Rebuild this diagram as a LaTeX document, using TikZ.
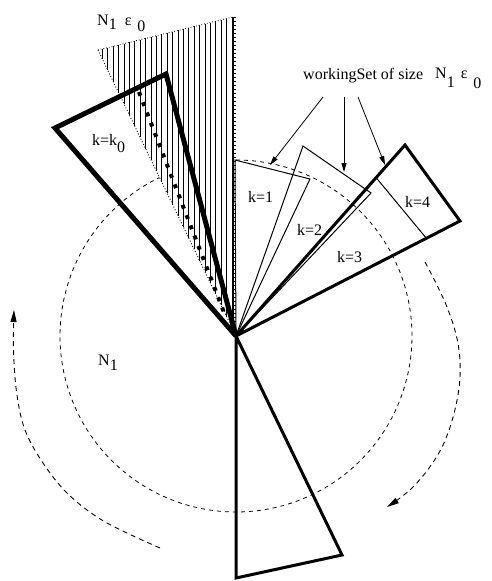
\documentclass[tikz,border=0pt]{standalone}
\usepackage{fontspec}
\setmainfont{Liberation Serif}
\usetikzlibrary{arrows.meta}
\begin{document}
\begin{tikzpicture}[x=1pt,y=-1pt,
  thinline/.style={line width=1pt, line join=miter, miter limit=3},
  thickline/.style={line width=3pt, line join=miter, miter limit=3},
  heavyline/.style={line width=5pt, line join=miter, miter limit=3},
  circdash/.style={line width=0.8pt, dash pattern=on 4pt off 4pt},
  arcdash/.style={line width=0.9pt, dash pattern=on 5pt off 4pt, -{Triangle[length=12pt,width=6pt]}},
  hatchline/.style={line width=1pt},
  ptr/.style={line width=0.8pt, -{Triangle[length=9pt,width=5pt]}},
  lbl/.style={anchor=base west, inner sep=0pt, font=\fontsize{16}{18}\selectfont}]
\useasboundingbox (0,0) rectangle (491,581);
\coordinate (O) at (236,336);
% hatched region
\foreach \i in {0,...,24}{
  \pgfmathsetmacro\xx{232-5.4*\i}
  \draw[hatchline] (\xx,{50-0.2444*(\xx-98)}) -- (\xx,{50+2.0725*(\xx-98)});
}
\coordinate (H1) at (98,50);
\coordinate (H2) at (233,17);
\coordinate (H3) at (233,330);
\draw[dotted, line width=0.8pt] (H1) -- (H2);
\draw[dotted, line width=0.9pt] (H1) -- (O);
\draw[line width=0.8pt] (H2) -- (H3);
\draw[line width=1.2pt, dash pattern=on 0.8pt off 3.2pt] (235,17) -- (235,330);
% dashed circle
\draw[circdash] plot[domain=-450:-115.8, samples=200] ({236+176*cos(\x)},{336+176*sin(\x)});
% rotation arrows
\draw[arcdash] plot[smooth, tension=0.6] coordinates {(160,548) (127,533) (97,517) (67,493) (43,463) (25,430) (16.7,393) (13.5,350) (14,310)};
\draw[arcdash] plot[smooth, tension=0.6] coordinates {(425,262) (447,307) (459,350) (458,395) (443,445) (416,484) (387,507)};
% window k = k0
\coordinate (A1) at (55,128);
\coordinate (A2) at (166,74);
\draw[heavyline] (O) -- (A1) -- (A2) -- cycle;
\coordinate (D1) at (139,92);
\coordinate (D2) at (225,315);
\draw[line width=4pt, dash pattern=on 4pt off 7pt] (D1) -- (D2);
% window k = 1
\coordinate (B1) at (235,160);
\coordinate (B2) at (310,179);
\draw[thinline] (O) -- (B1) -- (B2) -- cycle;
% window k = 2
\coordinate (C1) at (303,146);
\coordinate (C2) at (371,193);
\draw[thinline] (O) -- (C1) -- (C2) -- cycle;
% window k = 3, 4
\coordinate (E1) at (405,145);
\coordinate (E2) at (460,221);
\draw[thickline] (O) -- (E1) -- (E2) -- cycle;
\coordinate (F1) at (376,177.5);
\coordinate (F2) at (426.4,238.3);
\draw[thinline] (F1) -- (F2);
% bottom window
\coordinate (G1) at (236,578);
\coordinate (G2) at (342,555);
\draw[thickline] (O) -- (G1) -- (G2) -- cycle;
% labels
\node[lbl] (top) at (97,25) {N\raisebox{-4pt}{1}\hspace{8pt}ε\hspace{6pt}\raisebox{-6pt}{0}};
\node[lbl] (ws) at (303,79) {workingSet of size};
\node[lbl] (wsn) at (435,78) {N\raisebox{-9pt}{1}\hspace{6pt}ε\hspace{6pt}\raisebox{-10pt}{0}};
\node[lbl] (k0) at (92,145) {k=k\raisebox{-7pt}{0}};
\node[lbl] (k1) at (248,202) {k=1};
\node[lbl] (k2) at (297,235) {k=2};
\node[lbl] (k3) at (337,262) {k=3};
\node[lbl] (k4) at (405,207) {k=4};
\node[lbl] (n1) at (98,365) {N\raisebox{-5pt}{1}};
% pointers
\coordinate (P1) at (323,97);
\coordinate (P2) at (344,97);
\coordinate (P3) at (358,97);
\coordinate (T1) at (270,165);
\coordinate (T2) at (344,172);
\coordinate (T3) at (385,165);
\draw[ptr] (P1) -- (T1);
\draw[ptr] (P2) -- (T2);
\draw[ptr] (P3) -- (T3);
\end{tikzpicture}
\end{document}
